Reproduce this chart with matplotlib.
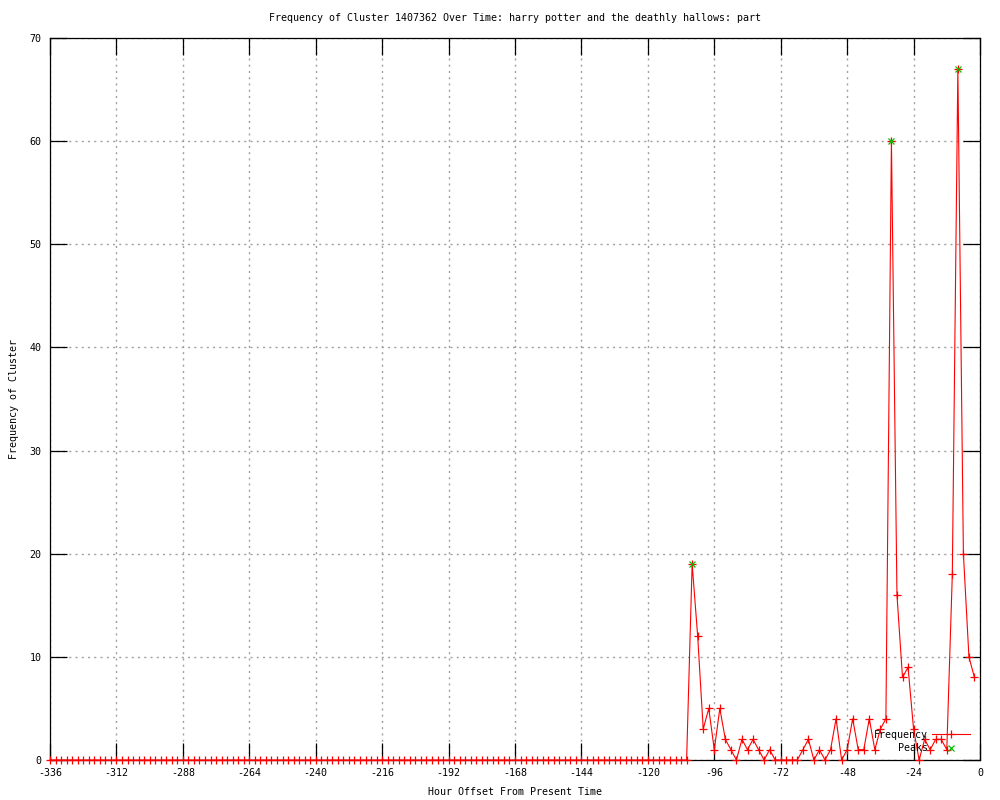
import matplotlib
matplotlib.use("Agg")
import matplotlib.pyplot as plt

plt.rcParams['font.family'] = ['DejaVu Sans Mono']
plt.rcParams['font.size'] = 7.2
plt.rcParams['axes.unicode_minus'] = False

# hour offsets, every 2 hours from -336 to -2
hours = list(range(-336, 0, 2))

# frequency per 2-hour bin
counts = [
    0, 0, 0, 0, 0, 0, 0, 0, 0, 0, 0, 0,   # -336 .. -314
    0, 0, 0, 0, 0, 0, 0, 0, 0, 0, 0, 0,   # -312 .. -290
    0, 0, 0, 0, 0, 0, 0, 0, 0, 0, 0, 0,   # -288 .. -266
    0, 0, 0, 0, 0, 0, 0, 0, 0, 0, 0, 0,   # -264 .. -242
    0, 0, 0, 0, 0, 0, 0, 0, 0, 0, 0, 0,   # -240 .. -218
    0, 0, 0, 0, 0, 0, 0, 0, 0, 0, 0, 0,   # -216 .. -194
    0, 0, 0, 0, 0, 0, 0, 0, 0, 0, 0, 0,   # -192 .. -170
    0, 0, 0, 0, 0, 0, 0, 0, 0, 0, 0, 0,   # -168 .. -146
    0, 0, 0, 0, 0, 0, 0, 0, 0, 0, 0, 0,   # -144 .. -122
    0, 0, 0, 0, 0, 0, 0, 0,               # -120 .. -106
    19, 12, 3, 5, 1, 5, 2, 1, 0, 2,       # -104 .. -86
    1, 2, 1, 0, 1, 0, 0, 0, 0, 0,         # -84 .. -66
    1, 2, 0, 1, 0, 1, 4, 0, 1, 4,         # -64 .. -46
    1, 1, 4, 1, 3, 4, 60, 16, 8, 9,       # -44 .. -26
    3, 0, 2, 1, 2, 2, 1, 18, 67, 20,      # -24 .. -6
    10, 8,                                # -4 .. -2
]

peak_hours = [-104, -32, -8]
peak_counts = [19, 60, 67]

xticks = list(range(-336, 1, 24))
yticks = list(range(0, 71, 10))

fig = plt.figure(figsize=(10, 8), dpi=100)
ax = fig.add_axes([0.05, 0.05, 0.93, 0.9025])

ax.plot(hours, counts, color='red', linewidth=0.8, marker='+', markersize=5.5,
        markeredgewidth=0.9, label='Frequency', clip_on=False, zorder=3)
ax.plot(peak_hours, peak_counts, linestyle='none', color='#00c000', marker='x',
        markersize=5, markeredgewidth=0.9, label='Peaks', clip_on=False, zorder=4)

ax.set_xlim(-336, 0)
ax.set_ylim(0, 70)
ax.set_xticks(xticks)
ax.set_yticks(yticks)
ax.tick_params(direction='in', length=12, width=0.9, top=True, right=True,
               labelsize=7.2, pad=6)
ax.grid(True, color='#a0a0a0', linestyle=(0, (1.5, 3)), linewidth=1)

for sp in ax.spines.values():
    sp.set_linewidth(0.9)

ax.set_title('Frequency of Cluster 1407362 Over Time: harry potter and the deathly hallows: part',
             fontsize=7.2, pad=12)
ax.set_xlabel('Hour Offset From Present Time', fontsize=7.2, labelpad=6.5)
ax.set_ylabel('Frequency of Cluster', fontsize=7.2, labelpad=8)

leg = ax.legend(loc='lower right', bbox_to_anchor=(0.997, 0.0), frameon=False,
                markerfirst=False, handlelength=3.8, handletextpad=0.4,
                labelspacing=0.35, borderpad=0.2, fontsize=7.2)
for t in leg.get_texts():
    t.set_ha('right')

fig.savefig('out.png', dpi=100)
